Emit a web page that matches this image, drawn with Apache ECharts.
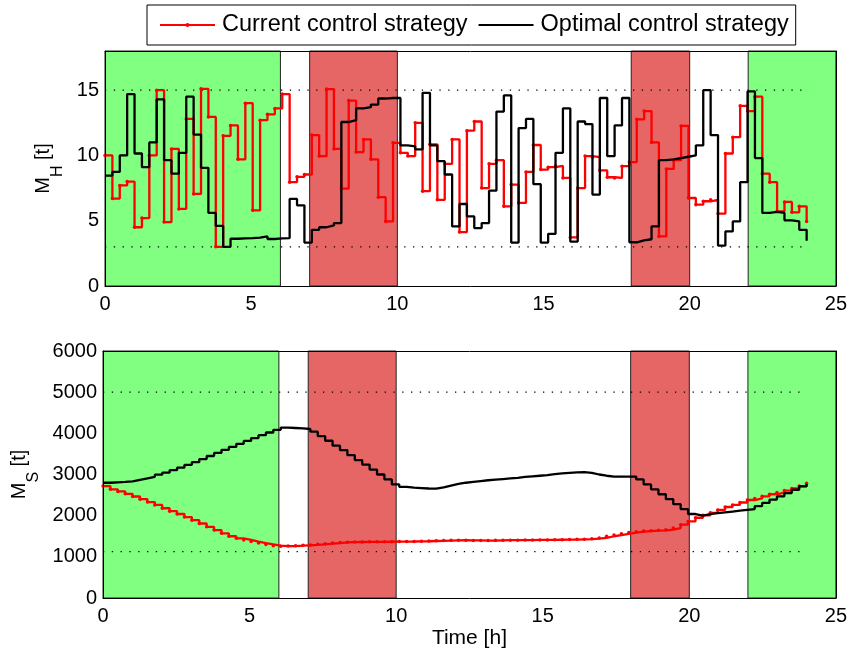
<!DOCTYPE html>
<html>
<head>
<meta charset="utf-8">
<script src="https://cdn.jsdelivr.net/npm/echarts@6/dist/echarts.min.js"></script>
<style>
html,body{margin:0;padding:0;background:#fff;}
#chart{width:850px;height:657px;}
</style>
</head>
<body>
<div id="chart"></div>
<script>
// ---- data ----
const sampleCount = 96;            // control samples over 24 h (stairs)
const horizon = 24;                // hours
const xTicks = [0, 5, 10, 15, 20, 25];
const mhTicks = [0, 5, 10, 15];
const msTicks = [0, 1000, 2000, 3000, 4000, 5000, 6000];
const seriesNames = ['Current control strategy', 'Optimal control strategy'];

const greenPeriods = [[0, 6], [22, 25]];
const redPeriods = [[7, 10], [18, 20]];
const mhLimits = [3, 15];
const msLimits = [1125, 5000];

// M_H [t] — current strategy
const mhCurrent = [10.0, 6.7, 7.7, 8.0, 4.5, 5.2, 10.0, 15.0, 4.9, 10.5, 5.9, 12.8, 7.05, 15.1, 12.95, 3.0,
  11.5, 12.3, 9.7, 14.0, 5.8, 12.7, 13.15, 13.6, 14.7, 7.95, 8.36, 8.54, 11.56, 9.95, 15.08, 10.5,
  7.46, 14.2, 10.26, 11.23, 9.7, 6.8, 4.95, 10.97, 10.2, 9.95, 12.5, 7.26, 10.85, 6.6, 9.36, 11.23,
  4.13, 11.9, 12.6, 7.5, 9.36, 9.64, 6.1, 7.77, 6.36, 8.74, 10.8, 8.92, 9.1, 9.2, 8.28, 3.72,
  7.5, 9.95, 9.87, 8.85, 8.33, 8.28, 9.18, 9.49, 12.77, 13.4, 11.0, 3.8, 8.97, 9.64, 12.26, 6.74,
  6.23, 6.49, 6.6, 5.54, 10.15, 11.4, 13.8, 13.4, 14.5, 8.6, 7.95, 5.72, 6.44, 5.64, 6.1, 4.95];
// M_H [t] — optimal strategy
const mhOptimal = [8.46, 8.74, 10.0, 14.7, 10.15, 9.1, 11.0, 14.3, 9.64, 8.6, 10.2, 14.5, 11.6, 9.05, 5.6, 4.6,
  3.0, 3.62, 3.65, 3.67, 3.7, 3.8, 3.6, 3.65, 3.67, 6.67, 6.18, 3.33, 4.3, 4.5, 4.64, 4.82,
  12.56, 12.7, 13.6, 13.7, 13.9, 14.36, 14.4, 14.4, 10.77, 10.7, 10.46, 14.8, 10.77, 9.56, 8.54, 4.56,
  6.28, 5.33, 4.44, 4.82, 7.3, 13.36, 14.6, 3.33, 12.1, 12.8, 7.8, 3.33, 4.0, 10.2, 13.6, 3.4,
  12.6, 12.4, 7.0, 14.4, 9.95, 12.3, 14.4, 3.35, 3.5, 3.58, 4.56, 9.64, 9.7, 9.8, 9.9, 10.0,
  10.77, 15.0, 11.56, 3.1, 4.18, 4.95, 7.95, 14.9, 9.8, 5.6, 5.67, 5.6, 5.03, 4.95, 4.3, 3.46];
// M_S [t] — current strategy
const msCurrent = [2720, 2640, 2590, 2530, 2465, 2400, 2330, 2260, 2180, 2110, 2040, 1965, 1890, 1810, 1730, 1650,
  1570, 1500, 1450, 1410, 1370, 1335, 1300, 1270, 1260, 1262, 1270, 1280, 1290, 1305, 1320, 1335,
  1350, 1355, 1360, 1362, 1365, 1365, 1367, 1368, 1370, 1372, 1375, 1378, 1385, 1390, 1395, 1400,
  1405, 1400, 1398, 1395, 1395, 1400, 1405, 1405, 1405, 1408, 1410, 1410, 1410, 1415, 1418, 1420,
  1425, 1430, 1440, 1460, 1500, 1530, 1560, 1590, 1610, 1625, 1635, 1645, 1660, 1700, 1780, 1860,
  1950, 2010, 2070, 2140, 2210, 2260, 2320, 2380, 2420, 2470, 2520, 2560, 2610, 2660, 2720, 2785];
// M_S [t] — optimal strategy
const msOptimal = [2800, 2810, 2820, 2835, 2870, 2905, 2945, 2995, 3045, 3105, 3165, 3235, 3300, 3375, 3450, 3525,
  3600, 3670, 3745, 3815, 3885, 3955, 4020, 4085, 4140, 4130, 4120, 4105, 4040, 3930, 3820, 3700,
  3590, 3470, 3350, 3240, 3120, 3000, 2880, 2760, 2700, 2680, 2670, 2660, 2655, 2690, 2730, 2770,
  2800, 2820, 2840, 2860, 2875, 2890, 2905, 2920, 2940, 2955, 2970, 2985, 3010, 3025, 3040, 3050,
  3060, 3040, 3000, 2970, 2950, 2950, 2950, 2950, 2880, 2760, 2640, 2520, 2400, 2280, 2160, 2040,
  2000, 2040, 2060, 2080, 2100, 2120, 2140, 2160, 2230, 2310, 2390, 2470, 2550, 2630, 2710, 2770];

// sample instants (stairs x values)
const hours = [];
for (let i = 0; i < sampleCount; i++) hours.push(horizon * i / (sampleCount - 1));

// ---- chart ----
const FONT = 'Liberation Sans, Arial, Helvetica, sans-serif';
const GREEN = '#80ff80';
const REDZONE = '#e66666';
const pair = (ys) => hours.map((t, i) => [t, ys[i]]);

function periodAreas() {
  const out = [];
  greenPeriods.forEach(p => out.push([{xAxis: p[0], itemStyle: {color: GREEN}}, {xAxis: p[1]}]));
  redPeriods.forEach(p => out.push([{xAxis: p[0], itemStyle: {color: REDZONE}}, {xAxis: p[1]}]));
  return out;
}

function xAx(grid, pos, withLabels, name) {
  return {
    gridIndex: grid, type: 'value', position: pos, min: xTicks[0], max: xTicks[xTicks.length - 1],
    interval: xTicks[1] - xTicks[0], z: 10,
    axisLine: {show: true, onZero: false, lineStyle: {color: '#000', width: 1}},
    axisTick: {show: false},
    splitLine: {show: false},
    axisLabel: {show: withLabels, color: '#000', fontSize: 20, fontFamily: FONT, margin: 8},
    name: name || '', nameLocation: 'middle', nameGap: 30,
    nameTextStyle: {color: '#000', fontSize: 21, fontFamily: FONT}
  };
}
function yAx(grid, pos, withLabels, ticks, max, sub) {
  return {
    gridIndex: grid, type: 'value', position: pos, min: ticks[0], max: max,
    interval: ticks[1] - ticks[0], z: 10,
    axisLine: {show: true, onZero: false, lineStyle: {color: '#000', width: 1}},
    axisTick: {show: false},
    splitLine: {show: false},
    axisLabel: {show: withLabels, color: '#000', fontSize: 20, fontFamily: FONT, margin: 6,
      formatter: (v) => String(v),
      showMaxLabel: max === ticks[ticks.length - 1]},
    name: withLabels ? '{m|M}{s|' + sub + '}{m| [t]}' : '',
    nameLocation: 'middle', nameGap: 38,
    nameTextStyle: {color: '#000', fontFamily: FONT,
      rich: {m: {fontSize: 20, lineHeight: 44, color: '#000', fontFamily: FONT},
             s: {fontSize: 16, lineHeight: 16, verticalAlign: 'bottom', color: '#000', fontFamily: FONT}}}
  };
}
function limitSeries(xi, yi, level) {
  return {
    type: 'line', xAxisIndex: xi, yAxisIndex: yi, silent: true, symbol: 'none', z: 2,
    data: [[0, level], [horizon, level]],
    lineStyle: {color: '#000', width: 1.3, type: [1.3, 7.5]}
  };
}
function stairs(name, xi, yi, ys, color) {
  const cur = name === seriesNames[0];
  return {
    name: name, type: 'line', step: 'end', xAxisIndex: xi, yAxisIndex: yi,
    data: pair(ys), z: cur ? 3 : 4,
    symbol: cur ? 'circle' : 'none', symbolSize: 3.5, showSymbol: cur,
    itemStyle: {color: color},
    lineStyle: {color: color, width: 2.3}
  };
}

const option = {
  animation: false,
  backgroundColor: '#fff',
  textStyle: {fontFamily: FONT},
  legend: {
    data: [
      {name: seriesNames[0], itemStyle: {color: '#ff0000'}},
      {name: seriesNames[1], itemStyle: {opacity: 0}}
    ],
    left: 147, top: 5, orient: 'horizontal',
    itemWidth: 55, itemHeight: 5, itemGap: 10,
    padding: [8, 7, 8, 12],
    borderColor: '#000', borderWidth: 1, backgroundColor: '#fff',
    textStyle: {color: '#000', fontSize: 23.5, fontFamily: FONT, padding: [0, 0, 0, 2]}
  },
  grid: [
    {left: 105, top: 51, width: 734, height: 235},
    {left: 103, top: 351, width: 733, height: 247}
  ],
  xAxis: [
    xAx(0, 'bottom', true), xAx(0, 'top', false),
    xAx(1, 'bottom', true, 'Time [h]'), xAx(1, 'top', false)
  ],
  yAxis: [
    yAx(0, 'left', true, mhTicks, 18, 'H'), yAx(0, 'right', false, mhTicks, 18, 'H'),
    yAx(1, 'left', true, msTicks, 6000, 'S'), yAx(1, 'right', false, msTicks, 6000, 'S')
  ],
  series: [
    {type: 'line', xAxisIndex: 0, yAxisIndex: 0, data: [], z: 1, silent: true,
     markArea: {silent: true, itemStyle: {borderColor: '#222', borderWidth: 1}, data: periodAreas()}},
    {type: 'line', xAxisIndex: 2, yAxisIndex: 2, data: [], z: 1, silent: true,
     markArea: {silent: true, itemStyle: {borderColor: '#222', borderWidth: 1}, data: periodAreas()}},
    limitSeries(0, 0, mhLimits[0]), limitSeries(0, 0, mhLimits[1]),
    limitSeries(2, 2, msLimits[0]), limitSeries(2, 2, msLimits[1]),
    stairs(seriesNames[0], 0, 0, mhCurrent, '#ff0000'),
    stairs(seriesNames[1], 0, 0, mhOptimal, '#000000'),
    stairs(seriesNames[0], 2, 2, msCurrent, '#ff0000'),
    stairs(seriesNames[1], 2, 2, msOptimal, '#000000')
  ]
};

const chart = echarts.init(document.getElementById('chart'), null, {renderer: 'canvas'});
chart.setOption(option);
</script>
</body>
</html>
